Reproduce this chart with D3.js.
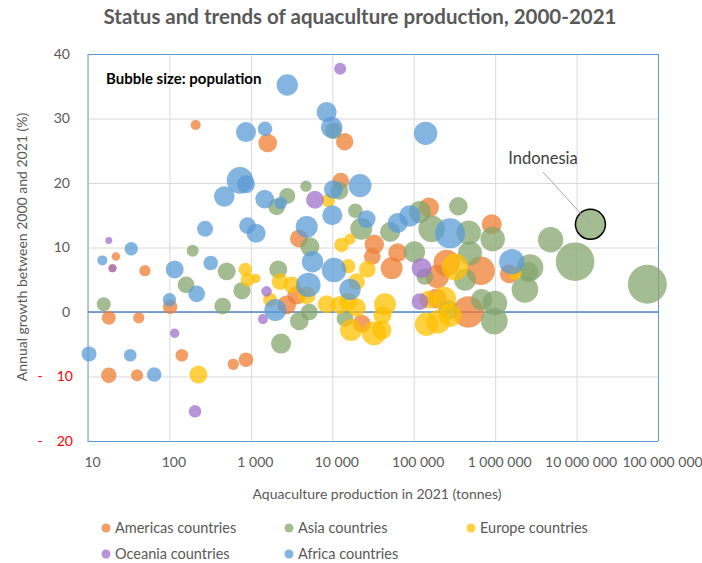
<!DOCTYPE html>
<html>
<head>
<meta charset="utf-8">
<script src="https://cdn.jsdelivr.net/npm/d3@7"></script>
<style>
  html, body { margin: 0; padding: 0; background: #fff; }
  svg { display: block; font-family: Lato, "Noto Sans", sans-serif; }
</style>
</head>
<body>
<svg id="chart" width="702" height="563"></svg>
<script>
// ---- Data: [aquaculture production 2021 (tonnes), annual growth 2000-2021 (%), population (millions)]
const americas = [
  [18, -0.9, 2.3], [18, -9.8, 4.3], [22, 8.6, 0.1], [20, 6.8, 0.07], [50, 6.4, 0.6],
  [42, -0.9, 0.6], [40, -9.8, 0.9], [102, 0.8, 3.0], [142, -6.7, 1.2], [210, 29.0, 0.29],
  [1610, 26.2, 14], [608, -8.1, 0.6], [871, -7.4, 3], [14200, 26.4, 9], [12700, 20.3, 7],
  [3900, 11.4, 11], [3650, 2.6, 14], [2750, 1.1, 14], [32800, 10.5, 18], [31000, 8.6, 7],
  [63500, 9.2, 14], [53600, 6.8, 39], [154000, 16.2, 22], [254000, 7.6, 130], [195000, 5.5, 58],
  [191000, 2.1, 22], [468000, 0.0, 360], [908000, 13.6, 22], [664000, 6.4, 200], [1490000, 5.9, 14],
  [23000, -1.8, 11]
];
const asia = [
  [15.6, 1.2, 2.3], [193, 9.5, 0.9], [160, 4.2, 7], [505, 6.3, 11], [778, 3.3, 9],
  [451, 0.9, 7], [2170, 6.6, 11], [2350, -4.9, 22], [2070, 16.3, 7], [2800, 18.0, 5.4],
  [10300, 28.1, 7], [4750, 19.5, 0.6], [12200, 18.8, 11], [19200, 15.7, 3], [22700, 12.9, 39],
  [5300, 10.1, 16], [51200, 12.4, 22], [119000, 15.5, 39], [166000, 12.9, 130], [353000, 16.4, 14],
  [473000, 12.3, 78], [102000, 9.3, 33], [137000, 5.5, 7], [427000, 5.0, 39], [491000, 9.1, 68],
  [933000, 11.3, 78], [4800000, 11.2, 95], [9600000, 7.8, 1330], [74000000, 4.3, 1412], [2680000, 6.9, 130],
  [2550000, 6.2, 22], [2320000, 3.5, 130], [684000, 1.9, 33], [995000, 1.4, 78], [977000, -1.4, 130],
  [3930, -1.4, 14], [5220, 0.0, 7], [14300, -1.0, 7], [266000, 0.3, 22]
];
const europe = [
  [227, -9.7, 11], [855, 6.6, 1.8], [915, 5.0, 2.3], [1150, 5.2, 0.2], [1720, 1.9, 2.3],
  [8930, 17.3, 1.8], [13000, 10.4, 3], [16500, 11.3, 0.6], [2280, 4.7, 7], [3180, 4.2, 7],
  [4850, 2.6, 11], [8530, 1.2, 11], [12300, 1.1, 11], [15700, 1.6, 11], [15700, 7.1, 3],
  [26900, 6.6, 7], [19900, 4.7, 7], [19900, 0.7, 14], [17000, -2.8, 39], [32500, -3.3, 68],
  [40700, -2.8, 16], [41300, -0.5, 11], [44400, 1.2, 39], [151000, 1.9, 11], [238000, 2.1, 58],
  [279000, -0.5, 58], [144000, -1.9, 58], [200000, -1.5, 58], [321000, 7.0, 130], [1750000, 6.0, 1.8]
];
const oceania = [
  [18, 11.1, 0.03], [20, 6.8, 0.07], [116, -3.3, 0.2], [206, -15.4, 1.2], [1560, 3.2, 0.4],
  [1410, -1.1, 0.29], [12500, 37.7, 0.9], [6130, 17.4, 11], [125000, 6.8, 22], [119000, 1.6, 7]
];
const africa = [
  [10.3, -6.5, 3.6], [15, 8.0, 0.29], [34, 9.8, 1.8], [33, -6.7, 1.2], [65, -9.7, 3],
  [116, 6.6, 11], [100, 1.9, 1.8], [321, 7.6, 3], [216, 2.8, 7], [2000, 0.3, 39],
  [2800, 35.2, 33], [871, 27.9, 22], [1490, 28.4, 3], [736, 20.4, 130], [871, 19.8, 11],
  [472, 17.9, 26], [1480, 17.5, 14], [2330, 16.9, 1.2], [274, 12.9, 5.4], [910, 13.4, 7],
  [1160, 12.2, 16], [8530, 31.0, 22], [9840, 28.6, 33], [140000, 27.7, 58], [10300, 19.0, 14],
  [21900, 19.6, 52], [10000, 15.0, 22], [26400, 14.4, 11], [4850, 13.2, 39], [63500, 13.8, 22],
  [89900, 14.9, 33], [279000, 12.2, 274], [1600000, 7.8, 95], [5720, 7.8, 33], [10500, 6.5, 78],
  [5080, 4.2, 78], [16500, 3.5, 33]
];
const indonesia = [14800000, 13.6, 274];

const seriesNames = ["Americas countries", "Asia countries", "Europe countries", "Oceania countries", "Africa countries"];
const seriesColors = ["#ED7D31", "#84A56D", "#FFC000", "#A070CC", "#5B9BD5"];
const seriesData = [americas, asia, europe, oceania, africa];
const xTicks = [10, 100, 1000, 10000, 100000, 1000000, 10000000, 100000000];
const yTicks = [-20, -10, 0, 10, 20, 30, 40];

// ---- Layout
const svg = d3.select("#chart");
const L = 88, R = 658, T = 54, B = 441;
const x = d3.scaleLog().domain([10, 1e8]).range([L, R]);
const y = d3.scaleLinear().domain([-20, 40]).range([B, T]);
const r = d3.scalePow().exponent(0.16).domain([0, 1412]).range([0, 19.5]);

// Title
svg.append("text").attr("x", 360).attr("y", 24).attr("text-anchor", "middle")
  .attr("font-size", 20.5).attr("font-weight", "bold").attr("fill", "#595959")
  .text("Status and trends of aquaculture production, 2000-2021");

// Gridlines
const gx = svg.append("g").attr("transform", `translate(0,${B})`)
  .call(d3.axisBottom(x).tickValues(xTicks).tickSize(-(B - T)).tickFormat(""));
gx.select(".domain").remove();
gx.selectAll(".tick line").attr("stroke", "#D9D9D9");
const gy = svg.append("g").attr("transform", `translate(${L},0)`)
  .call(d3.axisLeft(y).tickValues(yTicks).tickSize(-(R - L)).tickFormat(""));
gy.select(".domain").remove();
gy.selectAll(".tick line").attr("stroke", "#D9D9D9");

// Plot border
svg.append("line").attr("x1", L).attr("x2", R).attr("y1", T + 0.5).attr("y2", T + 0.5).attr("stroke", "#5B9BD5");
svg.append("line").attr("x1", L).attr("x2", R).attr("y1", B + 0.5).attr("y2", B + 0.5).attr("stroke", "#5B9BD5");
svg.append("line").attr("x1", R + 0.5).attr("x2", R + 0.5).attr("y1", T).attr("y2", B).attr("stroke", "#5B9BD5");
svg.append("line").attr("x1", L).attr("x2", L).attr("y1", T).attr("y2", B + 1).attr("stroke", "#9DB9DC").attr("stroke-width", 1.5);
// zero line
svg.append("line").attr("x1", L).attr("x2", R).attr("y1", y(0)).attr("y2", y(0)).attr("stroke", "#4F86C6").attr("stroke-width", 1.5);

// X axis labels
const ax = svg.append("g").attr("transform", `translate(4,${B})`)
  .call(d3.axisBottom(x).tickValues(xTicks).tickSize(0).tickPadding(16)
    .tickFormat(d => d3.format(",")(d).replace(/,/g, " ")));
ax.select(".domain").remove();
ax.selectAll("text").attr("font-size", 14).attr("font-family", "Lato").attr("fill", "#595959");

// Y axis labels
const ay = svg.append("g").attr("transform", `translate(${L},0)`)
  .call(d3.axisLeft(y).tickValues(yTicks).tickSize(0).tickPadding(18).tickFormat(d => Math.abs(d)));
ay.select(".domain").remove();
ay.selectAll("text").attr("font-size", 14).attr("font-family", "Lato")
  .attr("fill", d => d < 0 ? "#FF0000" : "#595959")
  .attr("dx", d => d < 0 ? 3 : 0);
ay.selectAll(".tick").filter(d => d < 0).append("text")
  .attr("x", -48).attr("dy", "0.32em").attr("text-anchor", "middle")
  .attr("font-size", 14).attr("font-family", "Lato").attr("fill", "#FF0000").text("-");

// Axis titles
svg.append("text").attr("x", 377).attr("y", 499).attr("text-anchor", "middle")
  .attr("font-size", 14).attr("fill", "#595959").text("Aquaculture production in 2021 (tonnes)");
svg.append("text").attr("transform", "translate(27,247) rotate(-90)").attr("text-anchor", "middle")
  .attr("font-size", 14).attr("fill", "#595959").text("Annual growth between 2000 and 2021 (%)");

// Bubbles
const plot = svg.append("g");
seriesData.forEach((data, i) => {
  plot.append("g").selectAll("circle").data(data).join("circle")
    .attr("cx", d => x(d[0])).attr("cy", d => y(d[1])).attr("r", d => r(d[2]))
    .attr("fill", seriesColors[i]).attr("fill-opacity", 0.75);
});
// Indonesia highlight
svg.append("circle").attr("cx", x(indonesia[0])).attr("cy", y(indonesia[1])).attr("r", r(indonesia[2]))
  .attr("fill", seriesColors[1]).attr("fill-opacity", 0.75).attr("stroke", "#000").attr("stroke-width", 1.5);
svg.append("line").attr("x1", 543).attr("y1", 172).attr("x2", x(indonesia[0])).attr("y2", y(indonesia[1]))
  .attr("stroke", "#A6A6A6").attr("stroke-width", 1);
svg.append("text").attr("x", 543).attr("y", 164).attr("text-anchor", "middle")
  .attr("font-size", 16.5).attr("fill", "#404040").text("Indonesia");

// Note
svg.append("text").attr("x", 106).attr("y", 84).attr("font-size", 15).attr("font-weight", "bold")
  .attr("fill", "#000").text("Bubble size: population");

// Legend
const legPos = [[106, 528], [289, 528], [471, 528], [106, 554], [289, 554]];
seriesNames.forEach((name, i) => {
  const g = svg.append("g").attr("transform", `translate(${legPos[i][0]},${legPos[i][1]})`);
  g.append("circle").attr("r", 4.5).attr("fill", seriesColors[i]).attr("fill-opacity", 0.75);
  g.append("text").attr("x", 9).attr("dy", "0.35em").attr("font-size", 14.5).attr("fill", "#595959").text(name);
});
</script>
</body>
</html>
